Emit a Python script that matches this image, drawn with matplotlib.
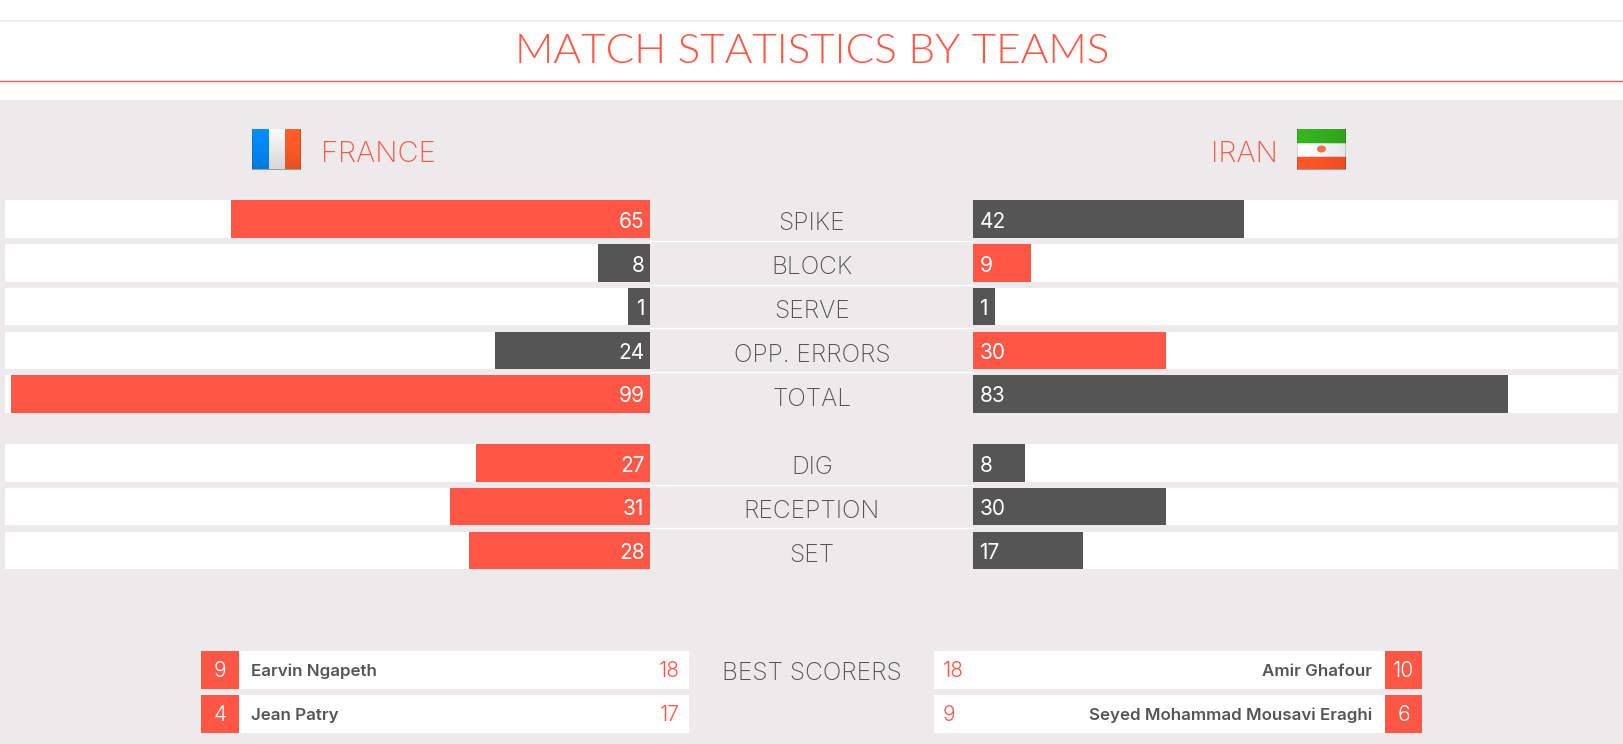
import matplotlib
matplotlib.use("Agg")
import matplotlib.pyplot as plt
import numpy as np
from matplotlib.patches import Ellipse, Rectangle

# data
categories = ["SPIKE", "BLOCK", "SERVE", "OPP. ERRORS", "TOTAL", "DIG", "RECEPTION", "SET"]
france_values = [65, 8, 1, 24, 99, 27, 31, 28]
iran_values = [42, 9, 1, 30, 83, 8, 30, 17]
france_scorer_numbers = ["9", "4"]
france_scorer_names = ["Earvin Ngapeth", "Jean Patry"]
france_scorer_points = [18, 17]
iran_scorer_numbers = ["10", "6"]
iran_scorer_names = ["Amir Ghafour", "Seyed Mohammad Mousavi Eraghi"]
iran_scorer_points = [18, 9]

W, H = 1623, 744
RED = "#FF5745"
DARK = "#555555"
BG = "#ECEAEB"
FONT = "Inter"

# layout, in pixels of the page
row_y = np.array([219, 263, 306.5, 350.5, 394, 463, 506.5, 550.5])
separators = [241, 284.5, 328, 372, 484.5, 528]
scorer_y = [669.5, 713.5]
MIN_BAR = 3.4  # short bars keep room for their number

plt.rcParams["font.family"] = FONT
fig = plt.figure(figsize=(W / 100, H / 100), dpi=100, facecolor="white")

page = fig.add_axes([0, 0, 1, 1])
page.set_xlim(0, W)
page.set_ylim(H, 0)
page.axis("off")


def flag_image(stripes, vertical):
    # glossy icon: each stripe lit on one side and shaded on the other
    rows, cols = 40, 49
    img = np.zeros((rows, cols, 3))
    n = len(stripes)
    for r in range(rows):
        for c in range(cols):
            pos = c / cols if vertical else r / rows
            base = np.array(matplotlib.colors.to_rgb(stripes[int(pos * n)]))
            if vertical:
                shade = 1.06 - 0.16 * (r / rows)
            else:
                shade = 1.04 - 0.12 * (c / cols)
            img[r, c] = np.clip(base * shade, 0, 1)
    img[-1, :] = (0.62, 0.62, 0.62)
    img[:, 0] = img[:, 0] * 0.85
    img[:, -1] = img[:, -1] * 0.85
    return img


page.add_patch(Rectangle((0, 100), W, H - 100, color=BG, lw=0))
page.plot([0, W], [21, 21], color="#EBEBEB", lw=1.2)
page.plot([0, W], [81, 81], color=RED, lw=1.0)
page.text(812, 63, "MATCH STATISTICS BY TEAMS", color=RED, fontsize=30.5, weight=300, family="Lato", ha="center", va="baseline")

# team headers
page.imshow(flag_image(["#0088F5", "#EDEDED", "#FF5A25"], True), extent=(252, 301, 170, 129), aspect="auto", zorder=2)
page.imshow(flag_image(["#35B020", "#FAFAFA", "#FF5425"], False), extent=(1297, 1346, 170, 129), aspect="auto", zorder=2)
page.add_patch(Ellipse((1321.5, 149), 9, 7, color="#F0704A", lw=0, zorder=3))
page.set_xlim(0, W)
page.set_ylim(H, 0)
page.text(321, 162, "FRANCE", color=RED, fontsize=21, weight=200, ha="left", va="baseline")
page.text(1278, 162, "IRAN", color=RED, fontsize=21, weight=200, ha="right", va="baseline")

# center labels
for y, cat in zip(row_y, categories):
    page.text(812, y + 11.5, cat, color=DARK, fontsize=17.7, weight=200, ha="center", va="baseline")
for y in separators:
    page.plot([650, 973], [y, y], color="white", lw=1.0)

# the two mirrored bar panels
top, bottom = 190, 580
ax_left = fig.add_axes([5 / W, 1 - bottom / H, 645 / W, (bottom - top) / H])
ax_right = fig.add_axes([973 / W, 1 - bottom / H, 645 / W, (bottom - top) / H])
ax_left.set_xlim(100, 0)
ax_right.set_xlim(0, 100)

for ax, own, other, ha, pad in (
    (ax_left, france_values, iran_values, "right", 0.85),
    (ax_right, iran_values, france_values, "left", 1.0),
):
    ax.set_ylim(bottom, top)
    ax.axis("off")
    ax.barh(row_y, 100, height=37.5, color="white", lw=0)
    colors = [RED if a > b else DARK for a, b in zip(own, other)]
    ax.barh(row_y, np.maximum(own, MIN_BAR), height=37.5, color=colors, lw=0)
    for y, v in zip(row_y, own):
        ax.text(pad, y + 8.5, str(v), color="white", fontsize=15, weight=400, ha=ha, va="baseline")

# best scorers
page.text(812, 680, "BEST SCORERS", color=DARK, fontsize=17.7, weight=200, ha="center", va="baseline")
for y, num, name, pts in zip(scorer_y, france_scorer_numbers, france_scorer_names, france_scorer_points):
    page.add_patch(Rectangle((239, y - 19), 450, 38, color="white", lw=0))
    page.add_patch(Rectangle((201, y - 19), 38, 38, color=RED, lw=0))
    page.text(220, y + 7.5, num, color="white", fontsize=15, weight=300, ha="center", va="baseline")
    page.text(251, y + 6.5, name, color=DARK, fontsize=12.2, weight=600, ha="left", va="baseline")
    page.text(680, y + 7.5, str(pts), color=RED, fontsize=15, weight=300, ha="right", va="baseline")
for y, num, name, pts in zip(scorer_y, iran_scorer_numbers, iran_scorer_names, iran_scorer_points):
    page.add_patch(Rectangle((934, y - 19), 451, 38, color="white", lw=0))
    page.add_patch(Rectangle((1385, y - 19), 37, 38, color=RED, lw=0))
    page.text(1403.5, y + 7.5, num, color="white", fontsize=15, weight=300, ha="center", va="baseline")
    page.text(1372, y + 6.5, name, color=DARK, fontsize=12.2, weight=600, ha="right", va="baseline")
    page.text(943, y + 7.5, str(pts), color=RED, fontsize=15, weight=300, ha="left", va="baseline")

fig.savefig("out.png", dpi=100)
